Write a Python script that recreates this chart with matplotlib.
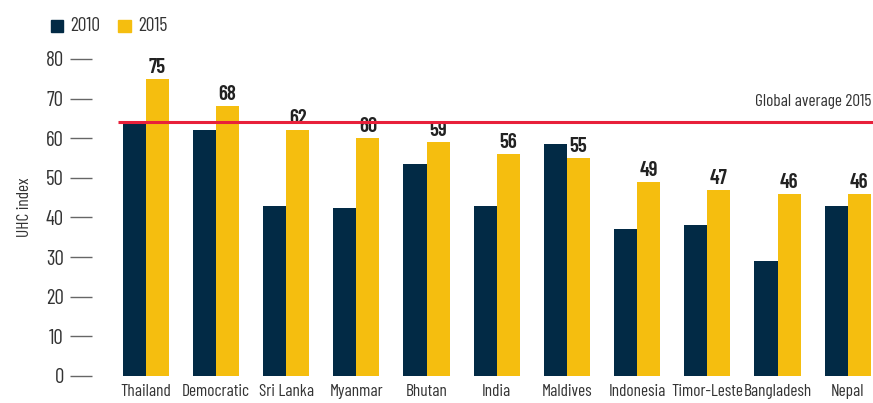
import matplotlib.pyplot as plt
import numpy as np
from matplotlib.patches import Rectangle

plt.rcParams['font.family'] = ['Barlow Condensed', 'Roboto Condensed', 'DejaVu Sans']

countries = ['Thailand', 'Democratic', 'Sri Lanka', 'Myanmar', 'Bhutan', 'India',
             'Maldives', 'Indonesia', 'Timor-Leste', 'Bangladesh', 'Nepal']
uhc_2010 = [64, 62, 43, 42.5, 53.5, 43, 58.5, 37, 38, 29, 43]
uhc_2015 = [75, 68, 62, 60, 59, 56, 55, 49, 47, 46, 46]
global_avg_2015 = 64

navy = '#022a45'
gold = '#f5be0f'
red = '#e8203a'
text_col = '#333333'

fig = plt.figure(figsize=(8.73, 4.03), dpi=100)
ax = fig.add_axes([0.105, 0.067, 0.895, 0.836])

x = np.arange(len(countries))
w = 0.33
ax.bar(x - w / 2, uhc_2010, width=w, color=navy, label='2010')
ax.bar(x + w / 2, uhc_2015, width=w, color=gold, label='2015')

for xi, v in zip(x, uhc_2015):
    ax.text(xi + w / 2, v + 0.5, f'{v:g}', ha='center', va='bottom',
            fontsize=15, fontweight='semibold', color='#222222')

ax.hlines(global_avg_2015, -0.4, 10.36, color=red, linewidth=2.2, zorder=3)
ax.text(10.33, global_avg_2015 + 3.3, 'Global average 2015', ha='right', va='bottom',
        fontsize=12.5, color=text_col)

ax.set_xlim(-0.77, 10.36)
ax.set_ylim(0, 85)
ax.set_yticks(range(0, 81, 10))
ax.set_xticks(x)
ax.set_xticklabels(countries)

ax.tick_params(axis='y', length=16, width=1, color='#666666', pad=4,
               labelsize=15, labelcolor=text_col)
ax.tick_params(axis='x', length=0, pad=6, labelsize=12.5, labelcolor=text_col)
for spine in ax.spines.values():
    spine.set_visible(False)

ax.set_ylabel('UHC index', fontsize=12.5, color=text_col, labelpad=10)

# legend squares drawn in figure coordinates
for fx, col, lab in [(0.058, navy, '2010'), (0.135, gold, '2015')]:
    fig.patches.append(Rectangle((fx, 0.92), 0.0145, 0.031, transform=fig.transFigure,
                                 color=col))
    fig.text(fx + 0.023, 0.935, lab, fontsize=14, color=text_col, va='center')

fig.savefig('out.png', dpi=100)
